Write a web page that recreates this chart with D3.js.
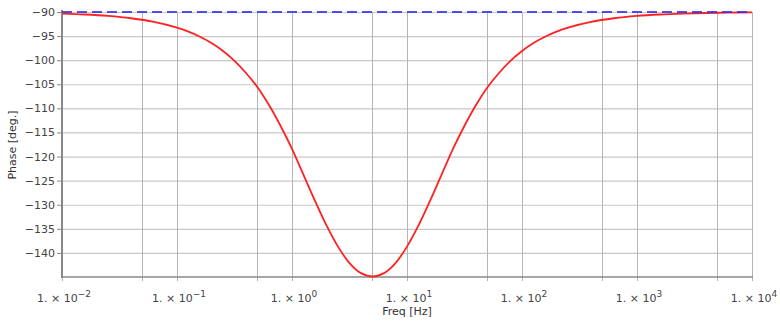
<!DOCTYPE html>
<html><head><meta charset="utf-8">
<script src="https://cdn.jsdelivr.net/npm/d3@7"></script>
<style>body{margin:0;background:#fff}svg{display:block}</style>
</head><body>
<svg id="c" width="780" height="322"></svg>
<script>
// log10 of frequency [Hz] and phase [deg]
const logFreq = [-2.0,-1.8,-1.6,-1.4,-1.2,-1.0,-0.9,-0.8,-0.7,-0.6,-0.5,-0.4,-0.3,-0.2,-0.1,0.0,0.1,0.2,0.3,0.4,0.5,0.6,0.7,0.8,0.9,1.0,1.1,1.2,1.3,1.4,1.5,1.6,1.7,1.8,1.9,2.0,2.1,2.2,2.3,2.4,2.6,2.8,3.0,3.2,3.4,3.6,3.8,4.0];
const phase = [-90.33,-90.52,-90.82,-91.30,-92.05,-93.25,-94.09,-95.14,-96.45,-98.10,-100.14,-102.66,-105.6,-109.3,-113.6,-118.4,-123.8,-129.2,-134.3,-138.7,-142.1,-144.2,-144.9,-144.2,-142.1,-138.7,-134.3,-129.2,-123.8,-118.4,-113.6,-109.3,-105.6,-102.66,-100.14,-98.10,-96.45,-95.14,-94.09,-93.25,-92.05,-91.30,-90.82,-90.52,-90.33,-90.21,-90.13,-90.08];
const refLevel = [-90];
const yTicks = [-90,-95,-100,-105,-110,-115,-120,-125,-130,-135,-140];
const xMajor = [-2,-1,0,1,2,3,4];
const xGrid = [0.01,0.05,0.1,0.5,1,5,10,50,100,500,1000,5000,10000];

const svg = d3.select("#c");
const L=62,R=752,T=12,B=277;
const x = d3.scaleLog().domain([0.01,10000]).range([L,R]);
const y = d3.scaleLinear().domain([-145,-90]).range([B,T]);
const font = "DejaVu Sans, Verdana, sans-serif";

// grid
svg.append("g").selectAll("line").data(yTicks).join("line")
  .attr("x1",L).attr("x2",R).attr("y1",d=>y(d)+0.5).attr("y2",d=>y(d)+0.5)
  .attr("stroke","#c8c8c8").attr("stroke-width",1.2);
svg.append("g").selectAll("line").data(xGrid).join("line")
  .attr("x1",d=>Math.round(x(d))+0.5).attr("x2",d=>Math.round(x(d))+0.5)
  .attr("y1",T).attr("y2",B+4)
  .attr("stroke","#b4b4b4").attr("stroke-width",1);

// axes lines
svg.append("line").attr("x1",L).attr("x2",L).attr("y1",T-2).attr("y2",B+1)
  .attr("stroke","#888").attr("stroke-width",2);
svg.append("line").attr("x1",L-1).attr("x2",R+1).attr("y1",B).attr("y2",B)
  .attr("stroke","#888").attr("stroke-width",1.6);

// y ticks and labels
const yg = svg.append("g");
yg.selectAll("line").data(yTicks).join("line")
  .attr("x1",L-5).attr("x2",L).attr("y1",d=>y(d)+0.5).attr("y2",d=>y(d)+0.5)
  .attr("stroke","#888");
yg.selectAll("text").data(yTicks).join("text")
  .attr("x",L-7).attr("y",d=>y(d)+4)
  .attr("text-anchor","end").attr("font-family",font).attr("font-size",11).attr("fill","#444")
  .text(d=>"\u2212"+Math.abs(d));

// x labels
const xg = svg.append("g");
xMajor.forEach(e=>{
  const t = xg.append("text").attr("x",x(Math.pow(10,e))+2).attr("y",302)
    .attr("text-anchor","middle").attr("font-family",font).attr("font-size",11).attr("fill","#444");
  t.append("tspan").text("1. \u00d7 10");
  t.append("tspan").attr("dy",-5).attr("font-size",9).text(e<0?"\u2212"+Math.abs(e):String(e));
});

// axis titles
svg.append("text").attr("x",407).attr("y",315).attr("text-anchor","middle")
  .attr("font-family",font).attr("font-size",11).attr("fill","#333").text("Freq [Hz]");
svg.append("text").attr("transform","translate(16,145) rotate(-90)").attr("text-anchor","middle")
  .attr("font-family",font).attr("font-size",11).attr("fill","#333").text("Phase [deg.]");

// curve
const pts = logFreq.map((l,i)=>[Math.pow(10,l),phase[i]]);
svg.append("path").datum(pts)
  .attr("d",d3.line().x(d=>x(d[0])).y(d=>y(d[1])).curve(d3.curveCatmullRom.alpha(0.5)))
  .attr("fill","none").attr("stroke","#ff2020").attr("stroke-width",1.8);

// reference dashed line
svg.append("g").selectAll("line").data(refLevel).join("line")
  .attr("x1",L).attr("x2",R).attr("y1",d=>y(d)).attr("y2",d=>y(d))
  .attr("stroke","#3333ee").attr("stroke-opacity",0.85).attr("stroke-width",2)
  .attr("stroke-dasharray","10,5");
</script>
</body></html>
